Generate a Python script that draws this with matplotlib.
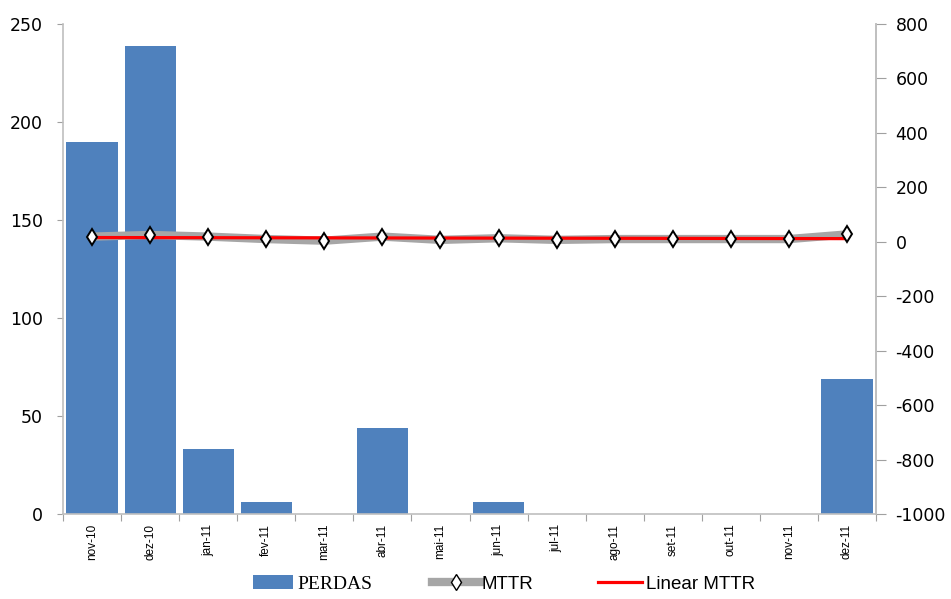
import numpy as np
import matplotlib
matplotlib.use("Agg")
import matplotlib.pyplot as plt
from matplotlib.lines import Line2D
from matplotlib.patches import Patch
from matplotlib import font_manager

plt.rcParams["axes.unicode_minus"] = False

categories = ["nov-10", "dez-10", "jan-11", "fev-11", "mar-11", "abr-11", "mai-11",
              "jun-11", "jul-11", "ago-11", "set-11", "out-11", "nov-11", "dez-11"]
perdas = [190, 239, 33, 6, 0, 44, 0, 6, 0, 0, 0, 0, 0, 69]
mttr = [19, 25, 19, 10, 4, 19, 7, 13, 7, 10, 10, 10, 10, 27]

left_ticks = [0, 50, 100, 150, 200, 250]
right_ticks = list(range(-1000, 801, 200))

# choose a narrow font if available
names = {f.name for f in font_manager.fontManager.ttflist}
if "Liberation Sans Narrow" in names:
    narrow = "Liberation Sans Narrow"
    leg_size = 15
    tick_family = "Liberation Sans Narrow"
else:
    narrow = "Liberation Sans"
    leg_size = 13.5
    tick_family = "Liberation Sans"

fig = plt.figure(figsize=(9.51, 5.99), dpi=100)
ax = fig.add_axes([63/951, 1 - 514/599, (876-63)/951, (514-24)/599])
x = np.arange(len(categories))
ax.bar(x, perdas, width=0.88, color="#4F81BD", zorder=1)
ax.set_xlim(-0.5, len(categories) - 0.5)
ax.set_ylim(0, 250)
ax.set_yticks(left_ticks)
ax.tick_params(axis="y", labelsize=12.5, length=4.5, color="#A0A0A0", direction="out", pad=10)
ax.set_xticks(np.arange(-0.5, len(categories), 1.0))
ax.set_xticklabels([])
ax.set_xticks(x, minor=True)
ax.set_xticklabels(categories, minor=True, rotation=90, fontsize=8.5, family=tick_family)
ax.tick_params(axis="x", which="major", length=5, color="#A0A0A0")
ax.tick_params(axis="x", which="minor", length=0, pad=7)
ax.spines["top"].set_visible(False)
for s in ["left", "bottom", "right"]:
    ax.spines[s].set_color("#BFBFBF")
    ax.spines[s].set_linewidth(1.2)

ax2 = ax.twinx()
ax2.set_ylim(-1000, 800)
ax2.set_yticks(right_ticks)
ax2.tick_params(axis="y", labelsize=12.5, length=7, color="#A0A0A0", pad=7)
ax2.spines["top"].set_visible(False)
ax2.spines["right"].set_color("#BFBFBF")
ax2.spines["right"].set_linewidth(1.2)
ax2.spines["left"].set_visible(False)
ax2.spines["bottom"].set_visible(False)

ax2.plot(x, mttr, color="#A6A6A6", linewidth=6, zorder=2, solid_capstyle="butt")
ax2.plot(x, mttr, linestyle="none", marker="d", markersize=8.5, markerfacecolor="white",
         markeredgecolor="black", markeredgewidth=1.4, zorder=4)
coef = np.polyfit(x, mttr, 1)
ax2.plot(x, np.polyval(coef, x), color="red", linewidth=2.3, zorder=3)

ycen = 1 - 584/599
# PERDAS
l1 = fig.legend([Patch(facecolor="#4F81BD")], ["PERDAS"], loc="center left",
                bbox_to_anchor=(253/951, ycen), frameon=False, borderpad=0,
                borderaxespad=0, handlelength=2.06, handletextpad=0.2,
                prop={"family": "Liberation Serif", "size": 14})
# MTTR
l2 = fig.legend([Line2D([], [], color="#A6A6A6", linewidth=6, marker="d", markersize=8,
                        markerfacecolor="white", markeredgecolor="black")],
                ["MTTR"], loc="center left", bbox_to_anchor=(432/951, ycen),
                frameon=False, borderpad=0, borderaxespad=0,
                handlelength=48/(leg_size*100/72), handletextpad=0.1,
                prop={"family": narrow, "size": leg_size})
# Linear MTTR
l3 = fig.legend([Line2D([], [], color="red", linewidth=2.3)], ["Linear MTTR"],
                loc="center left", bbox_to_anchor=(598/951, ycen),
                frameon=False, borderpad=0, borderaxespad=0,
                handlelength=44/(leg_size*100/72), handletextpad=0.2,
                prop={"family": narrow, "size": leg_size})

fig.savefig("out.png", dpi=100)
